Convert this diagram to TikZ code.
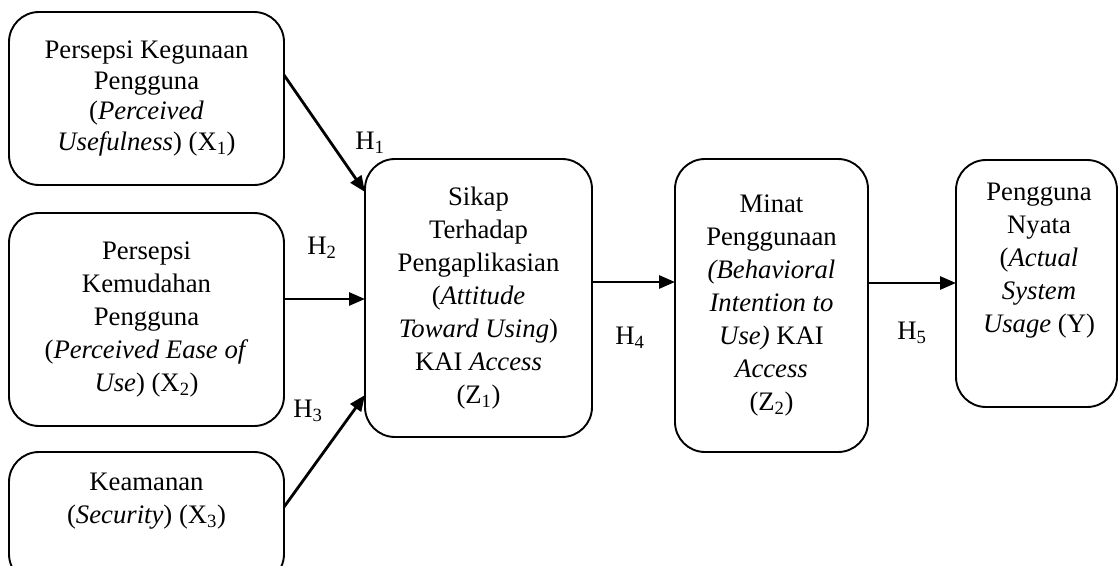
\documentclass[tikz,border=0pt]{standalone}
\usepackage{fontspec}
\setmainfont{Liberation Serif}
\usetikzlibrary{arrows.meta}
\begin{document}
\begin{tikzpicture}[x=1pt,y=-1pt,
  box/.style={draw,line width=1.9pt,rounded corners=30pt,inner sep=0pt,outer sep=0pt,align=center,
    font=\fontsize{26.7}{33}\selectfont},
  txt/.style={align=center,inner sep=0pt,font=\fontsize{26.7}{33}\selectfont},
  hlab/.style={inner sep=0pt,font=\fontsize{26.7}{33}\selectfont},
  arr/.style={line width=2.8pt,-{Triangle[length=16pt,width=13pt]}}]
\useasboundingbox[fill=white] (0,0) rectangle (1118,565);
% boxes
\node[box,minimum width=275pt,minimum height=173pt,font=\fontsize{26.7}{30.5}\selectfont] (x1) at (146.5,98.5)
  {Persepsi Kegunaan\\Pengguna\\(\textit{Perceived}\\\textit{Usefulness}) (X\textsubscript{1})};
\node[box,minimum width=275pt,minimum height=213pt] (x2) at (146.5,319.5)
  {Persepsi\\Kemudahan\\Pengguna\\(\textit{Perceived Ease of}\\\textit{Use}) (X\textsubscript{2})};
\node[box,minimum width=275pt,minimum height=132pt] (x3) at (146.5,518) {};
\node[txt] (x3t) at (146.5,501) {Keamanan\\(\textit{Security}) (X\textsubscript{3})};
\node[box,minimum width=227pt,minimum height=278pt] (z1) at (478.5,298)
  {Sikap\\Terhadap\\Pengaplikasian\\(\textit{Attitude}\\\textit{Toward Using})\\KAI \textit{Access}\\(Z\textsubscript{1})};
\node[box,minimum width=193pt,minimum height=293pt] (z2) at (771.5,305.5)
  {Minat\\Penggunaan\\\textit{(Behavioral}\\\textit{Intention to}\\\textit{Use)} KAI\\\textit{Access}\\(Z\textsubscript{2})};
\node[box,minimum width=161pt,minimum height=247pt] (y) at (1036.5,283.5) {};
\node[txt] (yt) at (1039,261) {Pengguna\\Nyata\\(\textit{Actual}\\\textit{System}\\\textit{Usage} (Y)};
% arrows
\draw[arr] ([yshift=23.5pt]x1.east) -- ([yshift=106pt]z1.west);
\draw[arr] ([yshift=20.5pt]x2.east) -- ([yshift=-1pt]z1.west);
\draw[arr] ([yshift=11pt]x3.east) -- ([yshift=-97pt]z1.west);
\draw[arr] ([yshift=16pt]z1.east) -- ([yshift=23.5pt]z2.west);
\draw[arr] ([yshift=22.5pt]z2.east) -- ([yshift=0.5pt]y.west);
% labels
\node[hlab] (h1) at (370,143) {H\textsubscript{1}};
\node[hlab] (h2) at (322,248) {H\textsubscript{2}};
\node[hlab] (h3) at (308,411) {H\textsubscript{3}};
\node[hlab] (h4) at (630,338) {H\textsubscript{4}};
\node[hlab] (h5) at (912,333) {H\textsubscript{5}};
\end{tikzpicture}
\end{document}
